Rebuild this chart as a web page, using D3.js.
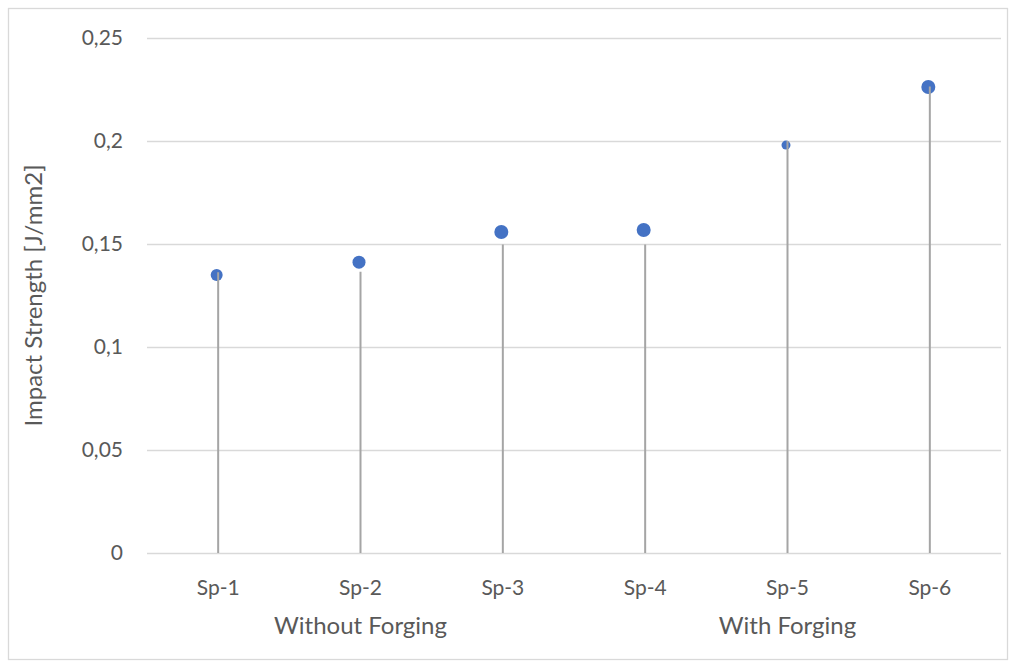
<!DOCTYPE html>
<html>
<head>
<meta charset="utf-8">
<script src="https://cdn.jsdelivr.net/npm/d3@7"></script>
<style>
  html, body { margin: 0; padding: 0; background: #fff; }
  svg { display: block; }
  text { font-family: Lato, "Open Sans", sans-serif; fill: #595959; }
</style>
</head>
<body>
<svg id="chart" width="1016" height="668"></svg>
<script>
// Specimen names and their forging groups
const specimens = ["Sp-1", "Sp-2", "Sp-3", "Sp-4", "Sp-5", "Sp-6"];
const groupNames = ["Without Forging", "With Forging"];
const groupMembers = [["Sp-1", "Sp-2", "Sp-3"], ["Sp-4", "Sp-5", "Sp-6"]];

// Measured impact strength (J/mm2) shown as markers
const impactStrength = [0.135, 0.1412, 0.1558, 0.1568, 0.198, 0.2262];
// Height reached by each drop line
const dropLineTop = [0.1363, 0.1365, 0.1497, 0.1497, 0.2, 0.2265];
// Marker radius per specimen
const markerRadius = [6, 6.5, 7, 7, 4.5, 7];

const yTicks = [0, 0.05, 0.1, 0.15, 0.2, 0.25];
const yTickLabels = ["0", "0,05", "0,1", "0,15", "0,2", "0,25"];
const yTitle = "Impact Strength [J/mm2]";

const svg = d3.select("#chart");

// Outer chart frame
svg.append("rect")
  .attr("x", 8.5).attr("y", 8.5)
  .attr("width", 999).attr("height", 651)
  .attr("fill", "#fff").attr("stroke", "#d9d9d9").attr("stroke-width", 1.3);

const plot = { left: 147, right: 1001, top: 38, bottom: 553 };

const x = d3.scaleBand().domain(specimens).range([plot.left, plot.right]);
const y = d3.scaleLinear().domain([0, 0.25]).range([plot.bottom, plot.top]);

// Horizontal gridlines
svg.append("g")
  .selectAll("line")
  .data(yTicks)
  .join("line")
  .attr("x1", plot.left).attr("x2", plot.right)
  .attr("y1", d => Math.round(y(d)) + 0.5).attr("y2", d => Math.round(y(d)) + 0.5)
  .attr("stroke", "#d9d9d9").attr("stroke-width", 1.3);

// Y axis labels
const yAxis = d3.axisLeft(y)
  .tickValues(yTicks)
  .tickFormat((d, i) => yTickLabels[i])
  .tickSize(0).tickPadding(24);
const yg = svg.append("g").attr("transform", `translate(${plot.left},0)`).call(yAxis);
yg.select(".domain").remove();
yg.selectAll("text")
  .style("font-family", "Lato, 'Open Sans', sans-serif")
  .style("font-size", "21px").attr("fill", "#595959");

// Y axis title
svg.append("text")
  .attr("transform", `translate(42,${(plot.top + plot.bottom) / 2}) rotate(-90)`)
  .attr("text-anchor", "middle")
  .style("font-size", "24px")
  .text(yTitle);

// Markers
const cx = d => x(d) + x.bandwidth() / 2;
svg.append("g")
  .selectAll("circle")
  .data(specimens)
  .join("circle")
  .attr("cx", d => cx(d) - 1.5)
  .attr("cy", (d, i) => y(impactStrength[i]))
  .attr("r", (d, i) => markerRadius[i])
  .attr("fill", "#4472C4");

// Drop lines from the baseline
svg.append("g")
  .selectAll("line")
  .data(specimens)
  .join("line")
  .attr("x1", d => cx(d)).attr("x2", d => cx(d))
  .attr("y1", y(0))
  .attr("y2", (d, i) => y(dropLineTop[i]))
  .attr("stroke", "#a5a5a5").attr("stroke-width", 2);

// Category labels
const xAxis = d3.axisBottom(x).tickSize(0).tickPadding(27);
const xg = svg.append("g").attr("transform", `translate(0,${plot.bottom})`).call(xAxis);
xg.select(".domain").remove();
xg.selectAll("text")
  .style("font-family", "Lato, 'Open Sans', sans-serif")
  .style("font-size", "21px").attr("fill", "#595959");

// Group labels centred under their specimens
svg.append("g")
  .selectAll("text")
  .data(groupNames)
  .join("text")
  .attr("x", (g, i) => {
    const m = groupMembers[i];
    return (x(m[0]) + x(m[m.length - 1]) + x.bandwidth()) / 2;
  })
  .attr("y", 634)
  .attr("text-anchor", "middle")
  .style("font-size", "24px")
  .text(g => g);
</script>
</body>
</html>
